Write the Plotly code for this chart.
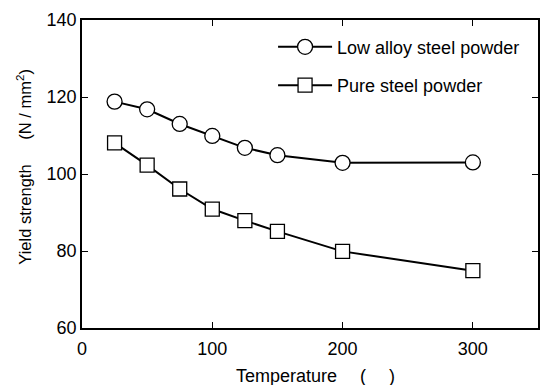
import plotly.graph_objects as go

temps = [25, 50, 75, 100, 125, 150, 200, 300]
low_alloy = [118.8, 116.8, 113.0, 109.9, 106.8, 104.9, 102.9, 103.0]
pure_steel = [108.1, 102.3, 96.1, 90.9, 87.9, 85.1, 79.9, 74.9]

x_ticks = [0, 100, 200, 300]
y_ticks = [60, 80, 100, 120, 140]

x_title = "Temperature\u2003 (\u2003 )"
y_title = "Yield strength\u2002\u2003(N / mm<sup>2</sup>)"

font_family = "Liberation Sans, Arial, sans-serif"

fig = go.Figure()
fig.add_trace(go.Scatter(
    x=temps, y=low_alloy, mode="lines+markers", name="Low alloy steel powder",
    legendgroup="a",
    line=dict(color="black", width=2),
    marker=dict(symbol="circle", size=15, color="white", line=dict(color="black", width=1.3)),
))
fig.add_trace(go.Scatter(
    x=temps, y=pure_steel, mode="lines+markers", name="Pure steel powder",
    legendgroup="b",
    line=dict(color="black", width=2),
    marker=dict(symbol="square", size=14, color="white", line=dict(color="black", width=1.3)),
))

axis_common = dict(
    showline=True, linecolor="black", linewidth=1.5, mirror="ticks",
    ticks="inside", ticklen=6, tickwidth=1, tickcolor="black",
    showgrid=False, zeroline=False,
    tickfont=dict(size=18, color="black", family=font_family),
)

fig.update_xaxes(range=[0, 350], tickvals=x_ticks, ticklabelstandoff=4, **axis_common)
fig.update_yaxes(range=[60, 140], tickvals=y_ticks, **axis_common)

fig.add_annotation(text=x_title, xref="paper", yref="paper", x=0.512, y=-0.117,
                   xanchor="center", yanchor="top", showarrow=False,
                   font=dict(size=18, color="black", family=font_family))
fig.add_annotation(text=y_title, xref="paper", yref="paper", x=-0.127, y=0.524,
                   xanchor="center", yanchor="middle", showarrow=False, textangle=-90,
                   font=dict(size=16.5, color="black", family=font_family))

fig.update_layout(
    width=540, height=385,
    margin=dict(l=82, r=0, t=20, b=57),
    paper_bgcolor="white", plot_bgcolor="white",
    font=dict(family=font_family, color="black"),
    showlegend=True,
    legend=dict(x=0.419, y=0.972, xanchor="left", yanchor="top",
                bgcolor="rgba(0,0,0,0)", font=dict(size=18, color="black", family=font_family),
                tracegroupgap=12, itemwidth=54),
)

fig.write_html("out.html")
